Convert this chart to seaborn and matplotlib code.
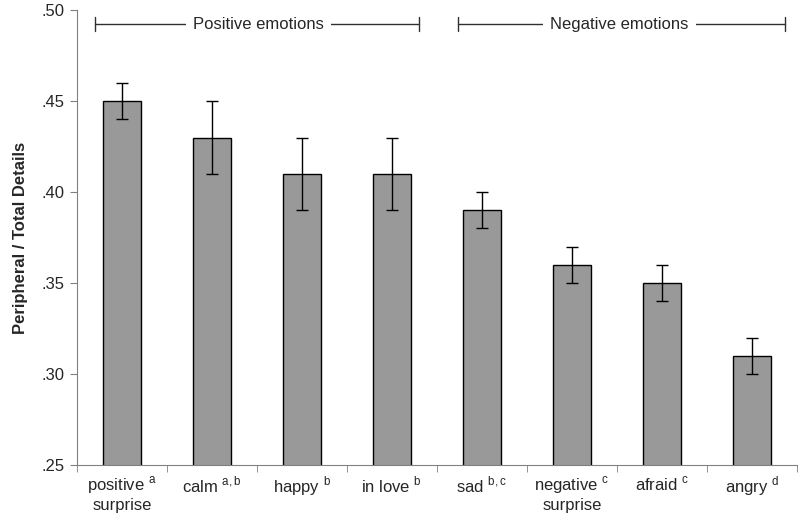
import numpy as np
import pandas as pd
import matplotlib
matplotlib.use("Agg")
import matplotlib.pyplot as plt
import seaborn as sns

emotions = ["positive\nsurprise", "calm", "happy", "in love", "sad",
            "negative\nsurprise", "afraid", "angry"]
superscripts = ["a", "a,b", "b", "b", "b,c", "c", "c", "d"]
ratio = [0.45, 0.43, 0.41, 0.41, 0.39, 0.36, 0.35, 0.31]
err = [0.01, 0.02, 0.02, 0.02, 0.01, 0.01, 0.01, 0.01]
yticks = [0.25, 0.30, 0.35, 0.40, 0.45, 0.50]

sns.set_style("ticks")
plt.rcParams["font.family"] = ["Liberation Sans", "DejaVu Sans"]
plt.rcParams["mathtext.fontset"] = "custom"
plt.rcParams["mathtext.rm"] = "Liberation Sans"

df = pd.DataFrame({"emotion": emotions, "ratio": ratio})

fig = plt.figure(figsize=(8, 5.24), dpi=100)
ax = fig.add_axes([0.096, 0.1126, 0.9, 0.868])

sns.barplot(data=df, x="emotion", y="ratio", color="#999999", width=0.42,
            edgecolor="black", linewidth=1, saturation=1, ax=ax, errorbar=None)
ax.errorbar(np.arange(len(ratio)), ratio, yerr=err, fmt="none",
            ecolor="black", elinewidth=1, capsize=4, capthick=1)

ax.set_xlim(-0.5, len(ratio) - 0.5)
ax.set_ylim(0.25, 0.50)
ax.set_yticks(yticks)
ax.set_yticklabels([("%.2f" % v)[1:] for v in yticks], fontsize=12)

# category labels with superscript letters
labels = []
for name, sup in zip(emotions, superscripts):
    lines = name.split("\n")
    lines[0] = lines[0] + " $^{\\mathregular{" + sup + "}}$"
    labels.append("\n".join(lines))
ax.set_xticks(np.arange(len(ratio)))
ax.set_xticklabels(labels, fontsize=12, linespacing=1.1)
ax.tick_params(axis="x", length=0, pad=7)
ax.set_xticks(np.arange(len(ratio) + 1) - 0.5, minor=True)
ax.tick_params(axis="x", which="minor", length=5, color="#808080")
ax.tick_params(axis="y", length=5, color="#808080")

ax.set_xlabel("")
ax.set_ylabel("Peripheral / Total Details", fontsize=12, fontweight="bold",
              labelpad=10)
sns.despine(ax=ax)
for s in ["left", "bottom"]:
    ax.spines[s].set_color("#808080")

# group brackets
def bracket(x0, x1, xt, text):
    y = 0.4923
    ax.plot([x0, x1], [y, y], color="#303030", lw=1, clip_on=False)
    for xx in (x0, x1):
        ax.plot([xx, xx], [y - 0.004, y + 0.004], color="#303030", lw=1,
                clip_on=False)
    ax.text(xt, y, text, ha="center", va="center", fontsize=12,
            bbox=dict(facecolor="white", edgecolor="none", pad=5))

bracket(-0.3, 3.3, 1.52, "Positive emotions")
bracket(3.74, 7.37, 5.53, "Negative emotions")

fig.savefig("out.png", dpi=100)
